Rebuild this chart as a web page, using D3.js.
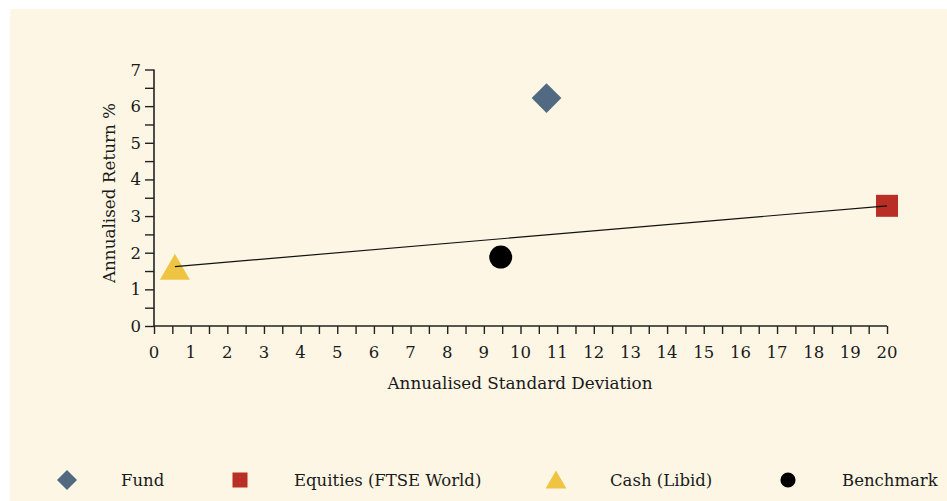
<!DOCTYPE html>
<meta charset="utf-8">
<script src="https://d3js.org/d3.v7.min.js"></script>
<style>
  body { margin: 0; background: #fff; }
  text { font-family: "DejaVu Serif", serif; fill: #1a1a1a; }
</style>
<svg id="chart" width="947" height="501"></svg>
<script>
  // series
  var names = ["Fund", "Equities (FTSE World)", "Cash (Libid)", "Benchmark"];
  var risk = [10.71, 20.0, 0.57, 9.46];
  var ret = [6.22, 3.28, 1.62, 1.88];
  var colors = ["#516a82", "#b92e25", "#efc443", "#000000"];
  var xTicks = d3.range(0, 21);
  var yTicks = d3.range(0, 8);

  var svg = d3.select("#chart");

  // cream panel
  svg.append("rect")
    .attr("x", 10).attr("y", 9)
    .attr("width", 937).attr("height", 492)
    .attr("fill", "#fdf6e4");

  var x = d3.scaleLinear().domain([0, 20]).range([154, 887]);
  var y = d3.scaleLinear().domain([0, 7]).range([326, 69.5]);

  // diamond = square turned 45deg
  var symbols = [d3.symbolSquare, d3.symbolSquare, d3.symbolTriangle, d3.symbolCircle];
  var turn = [45, 0, 0, 0];

  // x axis, minor ticks every 0.5
  var gx = svg.append("g").attr("transform", "translate(0,326)");
  gx.call(d3.axisBottom(x).tickValues(d3.range(0, 20.5, 0.5)).tickSize(8).tickFormat(""));
  gx.call(function (g) {
    g.select(".domain").attr("stroke", "#222").attr("stroke-width", 1.6).attr("d", "M154,0H887");
    g.selectAll(".tick line").attr("stroke", "#222").attr("stroke-width", 1.4);
  });
  svg.append("g").selectAll("text")
    .data(xTicks).enter().append("text")
    .attr("x", function (d) { return x(d); })
    .attr("y", 358)
    .attr("text-anchor", "middle")
    .style("font-size", "16.5px")
    .text(function (d) { return d; });

  // y axis
  var gy = svg.append("g").attr("transform", "translate(154,0)");
  gy.call(d3.axisLeft(y).tickValues(d3.range(0, 7.5, 0.5)).tickSize(9).tickFormat(""));
  gy.call(function (g) {
    g.select(".domain").attr("stroke", "#222").attr("stroke-width", 1.6).attr("d", "M0,326V69.5");
    g.selectAll(".tick line").attr("stroke", "#222").attr("stroke-width", 1.4);
  });
  svg.append("g").selectAll("text")
    .data(yTicks).enter().append("text")
    .attr("x", 141)
    .attr("y", function (d) { return y(d) + 6; })
    .attr("text-anchor", "end")
    .style("font-size", "16.5px")
    .text(function (d) { return d; });

  // axis titles
  svg.append("text")
    .attr("x", 520).attr("y", 389)
    .attr("text-anchor", "middle")
    .style("font-size", "16.8px")
    .text("Annualised Standard Deviation");
  svg.append("text")
    .attr("transform", "translate(115,193) rotate(-90)")
    .attr("text-anchor", "middle")
    .style("font-size", "16.8px")
    .text("Annualised Return %");

  // markers
  var sizes = [441, 484, 390, 415];
  svg.append("g").selectAll("path")
    .data(names).enter().append("path")
    .attr("transform", function (d, i) {
      var dy = i === 2 ? 4.5 : 0;
      return "translate(" + x(risk[i]) + "," + (y(ret[i]) + dy) + ") rotate(" + turn[i] + ")";
    })
    .attr("d", function (d, i) { return d3.symbol().type(symbols[i]).size(sizes[i])(); })
    .attr("fill", function (d, i) { return colors[i]; });

  // line from cash to equities
  svg.append("line")
    .attr("x1", x(risk[2])).attr("y1", y(ret[2]))
    .attr("x2", x(risk[1])).attr("y2", y(ret[1]))
    .attr("stroke", "#111").attr("stroke-width", 1.2);

  // legend
  var legX = [67, 240, 556, 788];
  var legSizes = [200, 225, 190, 180];
  var leg = svg.append("g").selectAll("g")
    .data(names).enter().append("g")
    .attr("transform", function (d, i) { return "translate(" + legX[i] + ",480)"; });
  leg.append("path")
    .attr("transform", function (d, i) {
      return (i === 2 ? "translate(0,2.5)" : "") + " rotate(" + turn[i] + ")";
    })
    .attr("d", function (d, i) { return d3.symbol().type(symbols[i]).size(legSizes[i])(); })
    .attr("fill", function (d, i) { return colors[i]; });
  leg.append("text")
    .attr("x", 54).attr("y", 6)
    .style("font-size", "16.5px")
    .text(function (d) { return d; });
</script>
